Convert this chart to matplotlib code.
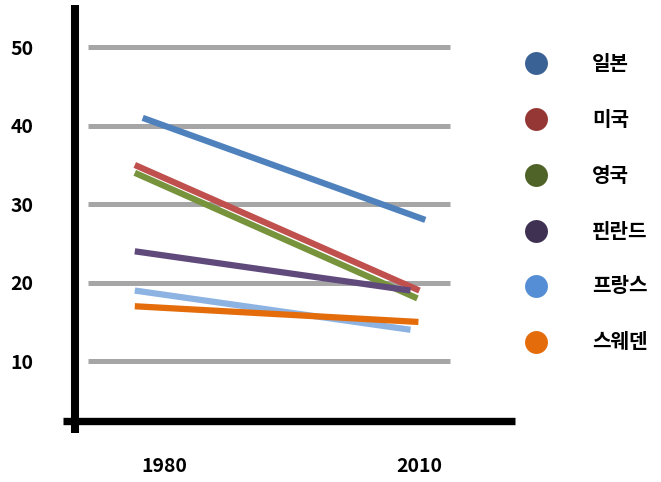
import matplotlib
matplotlib.use("Agg")
import matplotlib.pyplot as plt
from matplotlib.lines import Line2D

plt.rcParams['font.family'] = ['Noto Sans CJK KR', 'DejaVu Sans']

categories = ['1980', '2010']
countries = ['일본', '미국', '영국', '핀란드', '프랑스', '스웨덴']
values_1980 = [41, 35, 34, 24, 19, 17]
values_2010 = [28, 19, 18, 19, 14, 15]
y_ticks = [10, 20, 30, 40, 50]
y_tick_labels = ['10', '20', '30', '40', '50']

line_colors = ['#4f81bd', '#c0504d', '#77933c', '#604a7b', '#8db3e2', '#e46c0a']
legend_colors = ['#3a6295', '#953735', '#4f6228', '#3f3151', '#558ed5', '#e46c0a']
start_offset = [-0.086, -0.117, -0.117, -0.117, -0.117, -0.117]
end_offset = [0.023, 0.0, -0.008, -0.035, -0.035, -0.004]

W, H = 661, 482
fig = plt.figure(figsize=(W / 100, H / 100), dpi=100)
ax = fig.add_axes([75 / W, 61 / H, (515 - 75) / W, (477 - 61) / H])
ax.set_xlim(-0.3516, 1.375)
ax.set_ylim(2.38, 55.38)
for s in ax.spines.values():
    s.set_visible(False)

# gridlines
for t in y_ticks:
    ax.plot([-0.301, 1.121], [t, t], color='#a6a6a6', lw=3.6, solid_capstyle='butt', zorder=1)

# series
for i in range(len(countries)):
    xs = [0 + start_offset[i], 1 + end_offset[i]]
    ys = [values_1980[i], values_2010[i]]
    ax.plot(xs, ys, color=line_colors[i], lw=4.5, solid_capstyle='butt', zorder=3)

# ticks
ax.set_yticks(y_ticks, y_tick_labels)
ax.set_xticks([0, 1], categories)
ax.tick_params(axis='y', length=0, pad=30, labelsize=14)
ax.tick_params(axis='x', length=0, pad=26, labelsize=14)
for lab in ax.get_xticklabels() + ax.get_yticklabels():
    lab.set_fontweight('bold')

def px(x, y):
    return (x / W, 1 - y / H)

# thick axis lines
fig.add_artist(Line2D([63 / W, 515 / W], [1 - 421 / H, 1 - 421 / H],
                      color='black', lw=5.3, solid_capstyle='butt', transform=fig.transFigure))
fig.add_artist(Line2D([75 / W, 75 / W], [1 - 5 / H, 1 - 433 / H],
                      color='black', lw=5.8, solid_capstyle='butt', transform=fig.transFigure))

# legend
legend_y = [63, 119, 175, 231, 286, 342]
for i, name in enumerate(countries):
    cx, cy = px(536, legend_y[i])
    fig.add_artist(Line2D([cx], [cy], marker='o', markersize=16.5, color=legend_colors[i],
                          markeredgewidth=0, linestyle='none', transform=fig.transFigure))
    tx, ty = px(592, legend_y[i])
    fig.text(tx, ty, name, fontsize=14.5, fontweight='bold', va='center', ha='left')

fig.savefig('out.png', dpi=100)
